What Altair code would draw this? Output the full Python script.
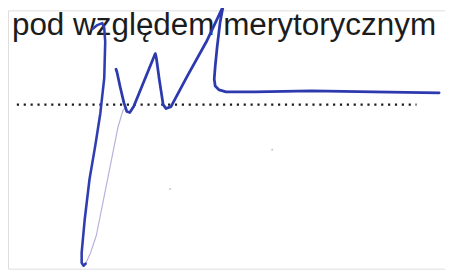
import altair as alt
import pandas as pd

# Printed caption
caption = ["pod względem merytorycznym"]
caption_x = [12]
caption_y = [33]

# Dotted signature line
dots_x_start = [17]
dots_x_end = [424]
dots_y = [104]

# Signature strokes (image pixel coordinates, y downward)
stroke1_x = [94, 99, 104, 106, 107, 106, 102, 97, 91, 86, 83, 83, 85, 87]
stroke1_y = [27, 23, 21, 26, 40, 77, 113, 145, 180, 222, 255, 265, 268, 266]

thin_x = [87, 92, 98, 110, 120, 125, 128]
thin_y = [266, 255, 237, 177, 127, 110, 106]

stroke2_x = [118, 119, 122, 126, 129, 132, 136, 158, 159, 162, 166, 169, 174, 190, 210, 227, 224, 221, 219, 218, 219, 223, 230, 260, 317, 380, 447]
stroke2_y = [68, 71, 85, 102, 111, 112, 106, 52, 56, 78, 104, 108, 106, 76, 40, 4, 20, 45, 65, 78, 85, 89, 91, 91, 90, 91, 92]

specks_x = [173, 277]
specks_y = [190, 150]

W, H = 453, 271
M = 8  # page margin

xs = alt.Scale(domain=[M, W], range=[0, W - M], nice=False, zero=False)
ys = alt.Scale(domain=[M, H], range=[0, H - M], nice=False, zero=False)


def line_df(xv, yv):
    return pd.DataFrame({"x": xv, "y": yv, "i": list(range(len(xv)))})


def path(xv, yv, color, width, opacity=1.0):
    return alt.Chart(line_df(xv, yv)).mark_line(
        color=color, strokeWidth=width, strokeCap="round", strokeJoin="round",
        interpolate="linear", opacity=opacity
    ).encode(
        x=alt.X("x:Q", scale=xs, axis=None),
        y=alt.Y("y:Q", scale=ys, axis=None),
        order="i:Q",
    )


text = alt.Chart(pd.DataFrame({"t": caption, "x": caption_x, "y": caption_y})).mark_text(
    align="left", baseline="alphabetic", font="Liberation Sans", fontSize=32, color="#1c1c1c"
).encode(
    x=alt.X("x:Q", scale=xs, axis=None),
    y=alt.Y("y:Q", scale=ys, axis=None),
    text="t:N",
)

dots = alt.Chart(pd.DataFrame({"x": dots_x_start, "x2": dots_x_end, "y": dots_y})).mark_rule(
    color="#1a1a1a", strokeWidth=2.2, strokeDash=[2.2, 4.8]
).encode(
    x=alt.X("x:Q", scale=xs, axis=None),
    x2="x2:Q",
    y=alt.Y("y:Q", scale=ys, axis=None),
)

specks = alt.Chart(pd.DataFrame({"x": specks_x, "y": specks_y})).mark_point(
    filled=True, size=4, color="#aaaaaa"
).encode(
    x=alt.X("x:Q", scale=xs, axis=None),
    y=alt.Y("y:Q", scale=ys, axis=None),
)

chart = alt.layer(
    text,
    dots,
    specks,
    path(thin_x, thin_y, "#b4b2dc", 1.2),
    path(stroke1_x, stroke1_y, "#2f3db0", 2.6),
    path(stroke2_x, stroke2_y, "#2c3aae", 2.8),
).properties(
    width=W - M, height=H - M, padding=0, autosize=alt.AutoSizeParams(type="none")
).configure_view(stroke=None).configure(background="white")

chart.save("out.html", embed_options={"renderer": "svg", "actions": False})
